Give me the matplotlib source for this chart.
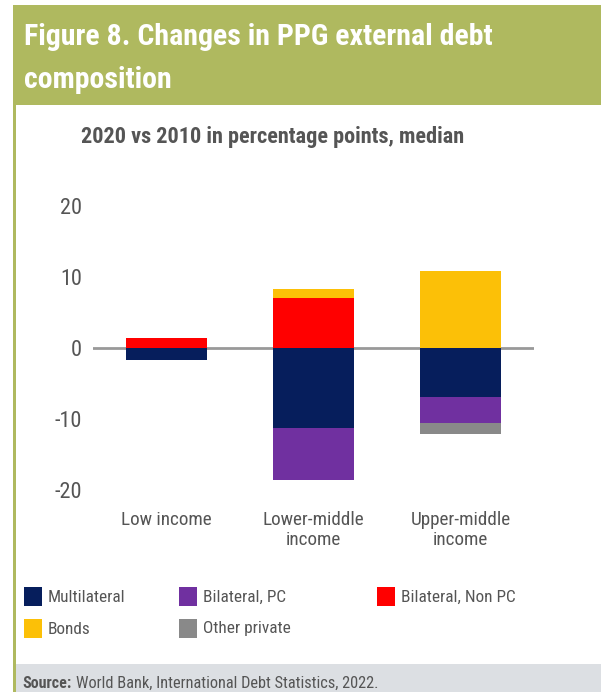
import matplotlib
matplotlib.use("Agg")
import matplotlib.pyplot as plt
from matplotlib import font_manager
from matplotlib.patches import Rectangle
import numpy as np

categories = ["Low income", "Lower-middle\nincome", "Upper-middle\nincome"]
series_names = ["Multilateral", "Bilateral, PC", "Bilateral, Non PC", "Bonds", "Other private"]
series_colors = ["#061E5C", "#7030A0", "#FF0000", "#FCC007", "#898989"]

multilateral = [-1.7, -11.3, -7.0]
bilateral_pc = [0.0, -7.4, -3.6]
bilateral_non_pc = [1.4, 7.0, 0.0]
bonds = [0.0, 1.3, 10.8]
other_private = [0.0, 0.0, -1.6]

y_ticks = [20, 10, 0, -10, -20]

W, H = 601, 692
GREEN = "#AFB95F"
TXT = "#555555"

# pick a narrow face if one is around
installed = {f.name for f in font_manager.fontManager.ttflist}
FONT = "Roboto"
for cand in ["Roboto Condensed", "Open Sans Condensed", "Liberation Sans Narrow", "Arial Narrow"]:
    if cand in installed:
        FONT = cand
        break
FAM = [FONT, "DejaVu Sans"]


def fx(px):
    return px / W


def fy(py):
    return 1 - py / H


fig = plt.figure(figsize=(W / 100, H / 100), dpi=100)
fig.patch.set_facecolor("white")

# header band, left rule and source strip
fig.add_artist(Rectangle((fx(13), fy(105)), 1 - fx(13), fy(5) - fy(105),
                         transform=fig.transFigure, color=GREEN, lw=0))
fig.add_artist(Rectangle((fx(13), 0), fx(2.5), fy(105),
                         transform=fig.transFigure, color=GREEN, lw=0))
fig.add_artist(Rectangle((fx(15.5), 0), 1 - fx(15.5), fy(664),
                         transform=fig.transFigure, color="#DCDFE3", lw=0))

fig.text(fx(24), fy(45), "Figure 8. Changes in PPG external debt", color="white",
         fontsize=21.5, fontweight="bold", family=FAM, va="baseline")
fig.text(fx(24), fy(88), "composition", color="white",
         fontsize=21.5, fontweight="bold", family=FAM, va="baseline")
fig.text(fx(272.5), fy(137), "2020 vs 2010 in percentage points, median", color=TXT,
         fontsize=16, fontweight="bold", family=FAM, ha="center", va="center")

# chart area
zero_px = 347.7
ppu = 7.1
top_px, bot_px = 200, 500
ax = fig.add_axes([fx(93), fy(bot_px), fx(534) - fx(93), (bot_px - top_px) / H])
ax.set_ylim(-(bot_px - zero_px) / ppu, (zero_px - top_px) / ppu)
ax.set_xlim(-0.5, 2.5)

x = np.arange(len(categories))
data = [multilateral, bilateral_pc, bilateral_non_pc, bonds, other_private]
pos_base = np.zeros(len(categories))
neg_base = np.zeros(len(categories))
for vals, color in zip(data, series_colors):
    vals = np.array(vals)
    base = np.where(vals >= 0, pos_base, neg_base)
    ax.bar(x, vals, bottom=base, width=0.55, color=color, zorder=3, linewidth=0)
    pos_base += np.clip(vals, 0, None)
    neg_base += np.clip(vals, None, 0)

ax.axhline(0, color="#999999", lw=2, zorder=1)
for s in ax.spines.values():
    s.set_visible(False)
ax.set_yticks(y_ticks)
ax.set_yticklabels([str(t) for t in y_ticks], family=FAM, fontsize=16, color=TXT)
ax.tick_params(axis="y", length=0, pad=8)
ax.set_xticks(x)
ax.set_xticklabels(categories, family=FAM, fontsize=13.8, color=TXT, linespacing=1.12)
ax.tick_params(axis="x", length=0, pad=8)

# legend
legend_pos = [(24, 587), (179, 587), (377, 587), (24, 619), (179, 619)]
for (lx, ly), name, color in zip(legend_pos, series_names, series_colors):
    fig.add_artist(Rectangle((fx(lx), fy(ly + 19)), fx(18), 19 / H,
                             transform=fig.transFigure, color=color, lw=0))
    fig.text(fx(lx + 24), fy(ly + 10), name, color=TXT, fontsize=12.4,
             family=FAM, va="center")

src = fig.text(fx(22), fy(683), "Source:", color=TXT, fontsize=11.5, fontweight="bold",
               family=FAM, va="center")
fig.canvas.draw()
src_end = src.get_window_extent().x1
fig.text(src_end / W + fx(5), fy(683), "World Bank, International Debt Statistics, 2022.",
         color=TXT, fontsize=11.8, family=FAM, va="center")

fig.savefig("out.png", dpi=100)
